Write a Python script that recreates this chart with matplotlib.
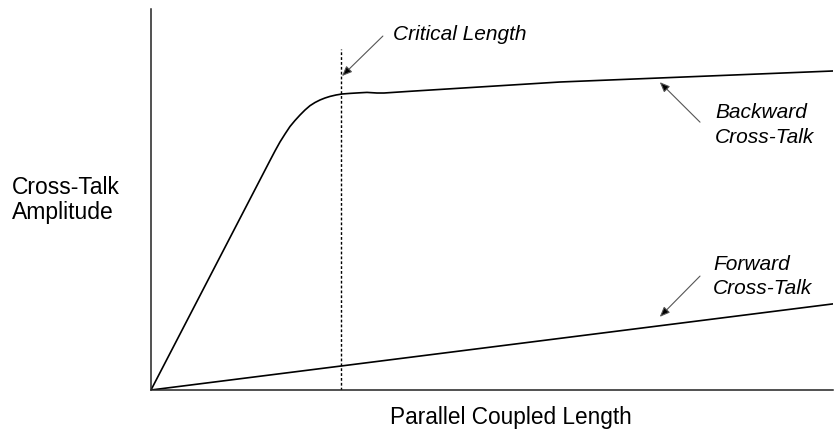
import matplotlib
matplotlib.use("Agg")
import matplotlib.pyplot as plt
from matplotlib import font_manager

# Backward cross-talk curve (x: % of shown length, y: % of axis height)
backward_x = [0.0, 17.45, 18.18, 18.91, 19.65, 20.38, 21.11, 21.85, 22.58, 23.31,
              24.05, 24.78, 25.51, 26.25, 27.13, 28.01, 29.18, 30.65, 31.67,
              33.14, 34.16, 37.98, 59.97, 100.0]
backward_y = [0.0, 60.24, 62.73, 65.09, 67.19, 69.16, 70.73, 72.18, 73.49, 74.62,
              75.46, 76.12, 76.64, 77.06, 77.43, 77.69, 77.85, 78.01, 78.11,
              77.95, 77.95, 78.40, 80.84, 83.73]

# Forward cross-talk line
forward_x = [0.0, 100.0]
forward_y = [0.0, 22.6]

critical_x = 27.9
critical_top = 89.5

names = {f.name for f in font_manager.fontManager.ttflist}
narrow = 'Liberation Sans Narrow' if 'Liberation Sans Narrow' in names else 'Liberation Sans'

fig = plt.figure(figsize=(8.37, 4.31), dpi=100)
ax = fig.add_axes([151/837, 40/431, 682/837, 381/431])
ax.set_xlim(0, 100)
ax.set_ylim(0, 100)
for s in ['top', 'right']:
    ax.spines[s].set_visible(False)
for s in ['left', 'bottom']:
    ax.spines[s].set_linewidth(1.1)
    ax.spines[s].set_color('#222222')
ax.set_xticks([])
ax.set_yticks([])

ax.plot(backward_x, backward_y, color='black', lw=1.2, solid_capstyle='round',
        solid_joinstyle='round')
ax.plot(forward_x, forward_y, color='black', lw=1.2)
ax.plot([critical_x, critical_x], [0, critical_top], color='black', lw=1.0,
        linestyle=(0, (2, 1.5)))

lab = dict(family=narrow, style='italic', fontsize=15, color='black')
ap = dict(arrowstyle='-|>,head_length=0.6,head_width=0.25', fc='black', ec='#555555',
          lw=0.8, shrinkA=0, shrinkB=0)

ax.annotate('', xy=(28.0, 82.4), xytext=(34.0, 92.9), arrowprops=ap)
ax.text(35.5, 93.7, 'Critical Length', ha='left', va='center', **lab)

ax.annotate('', xy=(74.6, 80.8), xytext=(80.5, 70.3), arrowprops=ap)
ax.text(82.7, 69.8, 'Backward\nCross-Talk', ha='left', va='center', linespacing=1.35, **lab)

ax.annotate('', xy=(74.6, 19.2), xytext=(80.5, 29.9), arrowprops=ap)
ax.text(82.4, 30.0, 'Forward\nCross-Talk', ha='left', va='center', linespacing=1.35, **lab)

fig.text(12/837, 1 - 200/431, 'Cross-Talk\nAmplitude', ha='left', va='center',
         family='Liberation Sans', fontsize=16.5, linespacing=1.08)
fig.text(511/837, 1 - 418/431, 'Parallel Coupled Length', ha='center', va='center',
         family='Liberation Sans', fontsize=16.3)

fig.savefig('out.png', dpi=100)
